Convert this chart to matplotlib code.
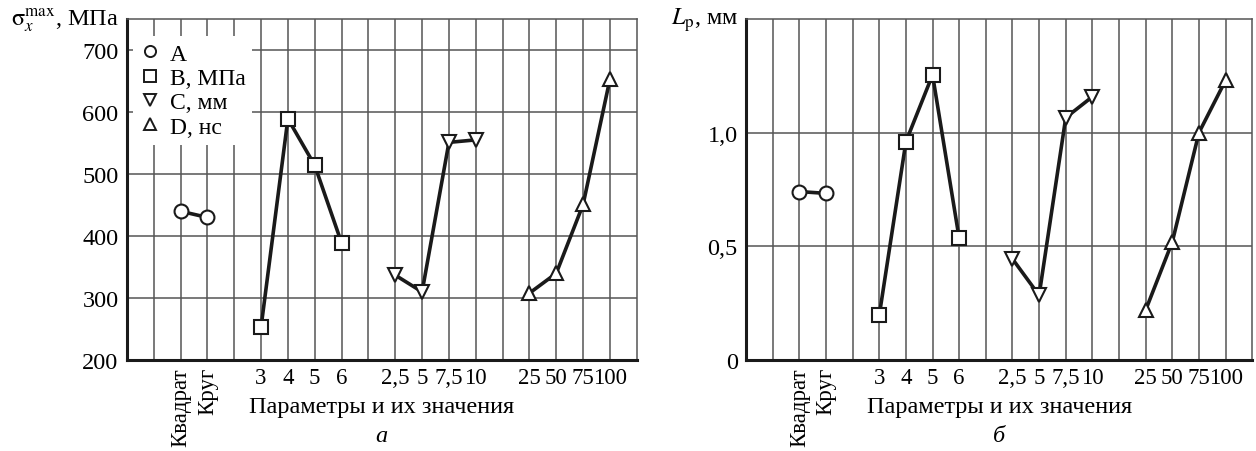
import matplotlib.pyplot as plt
from matplotlib.lines import Line2D

plt.rcParams['font.family'] = ['Liberation Serif', 'DejaVu Serif']
plt.rcParams['mathtext.fontset'] = 'stix'

# x-axis slots (blank = spacer column)
slots = ['', '', 'Квадрат', 'Круг', '', '3', '4', '5', '6', '',
         '2,5', '5', '7,5', '10', '', '25', '50', '75', '100']
pos_a = [2, 3]
pos_b = [5, 6, 7, 8]
pos_c = [10, 11, 12, 13]
pos_d = [15, 16, 17, 18]

# panel a: sigma_x max, MPa
sig_a = [440, 430]
sig_b = [253, 589, 514, 389]
sig_c = [337, 310, 551, 555]
sig_d = [308, 340, 451, 653]

# panel b: L_p, mm
lp_a = [0.741, 0.733]
lp_b = [0.197, 0.96, 1.254, 0.535]
lp_c = [0.445, 0.285, 1.066, 1.158]
lp_d = [0.22, 0.52, 1.0, 1.23]

legend_labels = ['A', 'B, МПа', 'C, мм', 'D, нс']
markers = ['o', 's', 'v', '^']

fig = plt.figure(figsize=(12.56, 4.52), dpi=100)
ax1 = fig.add_axes([0.101, 0.201, 0.406, 0.755])
ax2 = fig.add_axes([0.594, 0.201, 0.403, 0.755])

grid_col = '#555555'
fs = 17.5


def setup(ax, ylim, yticks, ylabels, ylab, letter):
    ax.set_xlim(0, 19)
    ax.set_ylim(*ylim)
    ax.set_xticks(range(1, 19))
    ax.set_xticklabels(slots[1:])
    for i, t in enumerate(ax.get_xticklabels()):
        if slots[i + 1] in ('Квадрат', 'Круг'):
            t.set_rotation(90)
            t.set_va('top')
    ax.set_yticks(yticks)
    ax.set_yticklabels(ylabels)
    ax.tick_params(length=0)
    ax.tick_params(axis='x', pad=5, labelsize=16.5)
    ax.tick_params(axis='y', pad=6, labelsize=fs)
    ax.grid(True, color=grid_col, lw=1.1)
    ax.set_axisbelow(True)
    for s in ['left', 'bottom']:
        ax.spines[s].set_linewidth(2.2)
        ax.spines[s].set_color('#1a1a1a')
    for s in ['top', 'right']:
        ax.spines[s].set_linewidth(1.1)
        ax.spines[s].set_color(grid_col)
    ax.text(-0.015, 1.0, ylab, transform=ax.transAxes, ha='right', va='center', fontsize=fs)
    ax.text(0.5, -0.135, 'Параметры и их значения', transform=ax.transAxes,
            ha='center', va='center', fontsize=fs)
    ax.text(0.5, -0.22, letter, transform=ax.transAxes, ha='center', va='center',
            fontsize=fs, style='italic')


def draw(ax, series):
    for (xs, ys), m in zip(series, markers):
        ax.plot(xs, ys, color='#1a1a1a', lw=2.6, marker=m, markersize=10,
                markerfacecolor='white', markeredgecolor='#1a1a1a', markeredgewidth=1.5,
                zorder=3)


setup(ax1, (200, 750), [200, 300, 400, 500, 600, 700],
      ['200', '300', '400', '500', '600', '700'],
      r'$\mathrm{σ}_x^{\rm max}$, МПа', 'а')
draw(ax1, [(pos_a, sig_a), (pos_b, sig_b), (pos_c, sig_c), (pos_d, sig_d)])

setup(ax2, (0, 1.5), [0, 0.5, 1.0], ['0', '0,5', '1,0'],
      r'$L_{\rm p}$, мм', 'б')
draw(ax2, [(pos_a, lp_a), (pos_b, lp_b), (pos_c, lp_c), (pos_d, lp_d)])

handles = [Line2D([], [], ls='none', marker=m, markersize=8, markerfacecolor='white',
                  markeredgecolor='#1a1a1a', markeredgewidth=1.4) for m in markers]
leg = ax1.legend(handles, legend_labels, loc='upper left', bbox_to_anchor=(0.012, 0.95),
                 borderaxespad=0, fontsize=17, frameon=True, fancybox=False,
                 handlelength=0.8, handletextpad=0.45, labelspacing=0.12, borderpad=0.3)
leg.get_frame().set_facecolor('white')
leg.get_frame().set_edgecolor('none')
leg.get_frame().set_alpha(1)
leg.set_zorder(5)

fig.savefig('out.png', dpi=100)
